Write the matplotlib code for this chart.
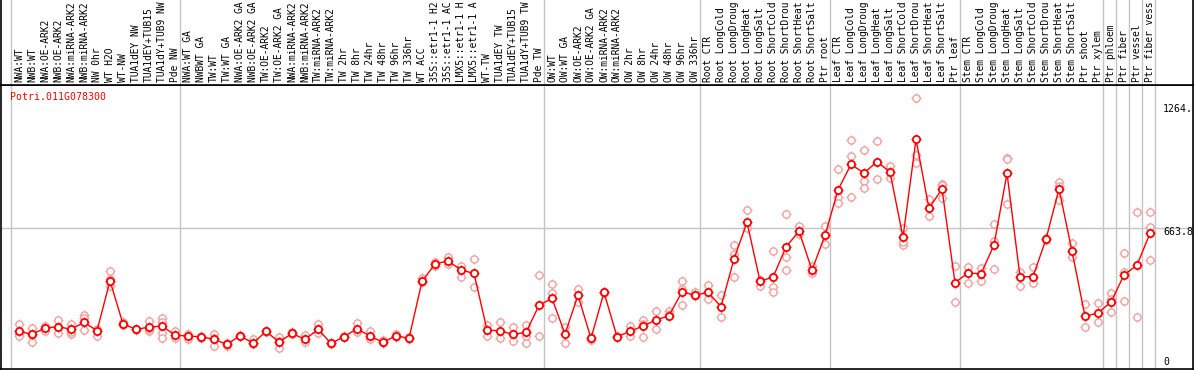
import matplotlib
matplotlib.use('Agg')
import matplotlib.pyplot as plt
import numpy as np

# sample labels, split by group (vertical grid lines between groups)
group_labels = [
    ['NWA:WT', 'NWB:WT', 'NWA:OE-ARK2', 'NWB:OE-ARK2', 'NWA:miRNA-ARK2', 'NWB:miRNA-ARK2',
     'NW 0hr', 'WT H2O', 'WT-NW', 'TUA1dEY NW', 'TUA1dEY+TUB15', 'TUA1dY+TUB9 NW', 'Pde NW'],
    ['NWA:WT GA', 'NWBWT GA', 'TW:WT', 'TW:WT GA', 'NWA:OE-ARK2 GA', 'NWB:OE-ARK2 GA',
     'TW:OE-ARK2', 'TW:OE-ARK2 GA', 'NWA:miRNA-ARK2', 'NWB:miRNA-ARK2', 'TW:miRNA-ARK2',
     'TW:miRNA-ARK2', 'TW 2hr', 'TW 8hr', 'TW 24hr', 'TW 48hr', 'TW 96hr', 'TW 336hr',
     'WT ACC', '35S::etr1-1 H2', '35S::etr1-1 AC', 'LMX5::etr1-1 H', 'LMX5::etr1-1 A',
     'WT-TW', 'TUA1dEY TW', 'TUA1dEY+TUB15', 'TUA1dY+TUB9 TW', 'Pde TW'],
    ['OW:WT', 'OW:WT GA', 'OW:OE-ARK2', 'OW:OE-ARK2 GA', 'OW:miRNA-ARK2', 'OW:miRNA-ARK2',
     'OW 2hr', 'OW 8hr', 'OW 24hr', 'OW 48hr', 'OW 96hr', 'OW 336hr'],
    ['Root CTR', 'Root LongCold', 'Root LongDroug', 'Root LongHeat', 'Root LongSalt',
     'Root ShortCold', 'Root ShortDrou', 'Root ShortHeat', 'Root ShortSalt', 'Ptr root'],
    ['Leaf CTR', 'Leaf LongCold', 'Leaf LongDroug', 'Leaf LongHeat', 'Leaf LongSalt',
     'Leaf ShortCold', 'Leaf ShortDrou', 'Leaf ShortHeat', 'Leaf ShortSalt', 'Ptr leaf'],
    ['Stem CTR', 'Stem LongCold', 'Stem LongDroug', 'Stem LongHeat', 'Stem LongSalt',
     'Stem ShortCold', 'Stem ShortDrou', 'Stem ShortHeat', 'Stem ShortSalt', 'Ptr shoot', 'Ptr xylem'],
    ['Ptr phloem'],
    ['Ptr fiber'],
    ['Ptr vessel'],
    ['Ptr fiber vess'],
]

# mean expression per sample
means = [163, 149, 179, 186, 173, 207, 166, 408, 199, 173, 183, 189, 145,
         140, 137, 124, 100, 142, 105, 163, 111, 153, 124, 173, 105, 137, 176, 140, 110,
         142, 129, 405, 489, 505, 460, 444, 170, 165, 149, 158, 289,
         323, 150, 338, 129, 352, 137, 163, 189, 218, 239, 354, 338,
         352, 283, 514, 691, 407, 425, 572, 648, 460, 628,
         848, 972, 930, 985, 935, 619, 1093, 759, 853, 399,
         446, 442, 581, 929, 428, 428, 610, 853, 552, 236, 252,
         305, 436, 484, 638]

# replicate values per sample
reps = [[197, 149, 142], [178, 113, 145], [190, 165], [218, 153, 186], [197, 149, 160],
        [242, 170, 226], [173, 140], [454, 383, 418], [207, 194], [173, 170],
        [215, 166, 176], [226, 207, 155, 132], [166, 131],
        [150, 124], [142, 131], [149, 92, 130], [105, 92], [145, 140], [124, 100],
        [166, 160], [134, 84, 115], [160, 150], [145, 113], [197, 153], [108, 102],
        [140, 134], [202, 158], [166, 124], [121, 105], [149, 137], [134, 126],
        [423, 400], [500, 480], [523, 490], [480, 428], [512, 376], [194, 142],
        [207, 129], [183, 118], [194, 105, 142], [435, 142],
        [392, 350, 229], [186, 105], [367, 307], [121, 134], [355, 349], [140, 134],
        [189, 140], [218, 134, 200], [262, 173], [262, 245], [407, 291, 370], [352, 332],
        [388, 318], [338, 234], [581, 536, 426], [751, 662], [383, 410], [551, 379, 355],
        [730, 525, 459], [673, 635], [480, 448], [673, 585],
        [948, 816, 783], [1089, 1013, 816], [1040, 891, 856], [1085, 900], [964, 904],
        [665, 581, 597], [1292, 1017, 977], [803, 722], [876, 811, 870], [480, 305],
        [476, 396], [468, 408], [683, 602, 464], [1004, 996, 779], [452, 383],
        [476, 399], [617, 605], [888, 866, 799], [590, 525], [294, 186], [299, 207],
        [347, 255, 320], [543, 450, 310], [740, 231], [740, 670, 507]]

gene = 'Potri.011G078300'
ytick_vals = [1264, 663.8, 0]
ytick_text = ['1264.', '663.8', '0']

labels = [l for g in group_labels for l in g]
x = np.arange(len(labels))
bounds = np.cumsum([0] + [len(g) for g in group_labels])

W, H = 1194, 370
fig = plt.figure(figsize=(W / 100, H / 100), dpi=100)
ax = fig.add_axes([1 / W, 1 / H, 1192 / W, 284 / H])
axl = fig.add_axes([1 / W, 285 / H, 1192 / W, 85 / H])

xlim = ((1 - 19) / 13, (1193 - 19) / 13)
ylim = ((365 - 369) / 0.2064, (365 - 85) / 0.2064)
mono = 'DejaVu Sans Mono'
grey = '#c4c4c4'

for a in (ax, axl):
    a.set_xlim(*xlim)
    a.set_xticks([])
    a.set_yticks([])
    for b in bounds:
        a.axvline(b - 0.62, color=grey, lw=1, zorder=0)
    for s in a.spines.values():
        s.set_color('black')
        s.set_linewidth(1.2)
axl.set_ylim(0, 1)
axl.spines['top'].set_visible(False)
ax.set_ylim(*ylim)
ax.axhline(663.8, color=grey, lw=1, zorder=0)

# labels on top strip
for xi, lab in zip(x, labels):
    axl.text(xi, 0.03, lab, rotation=90, ha='center', va='bottom',
             family=mono, fontsize=6.9, color='black')

# replicates
pink = '#f0a0a0'
for xi, r in zip(x, reps):
    xs = [xi] * len(r)
    ax.plot(xs, r, ls='none', marker='+', ms=7.5, mew=0.8, color=pink, zorder=2)
    ax.plot(xs, r, ls='none', marker='o', ms=5.2, mew=1.0, mec=pink, mfc='white', zorder=2)

# means
ax.plot(x, means, color='red', lw=1.0, zorder=3)
ax.plot(x, means, ls='none', marker='+', ms=7.5, mew=0.8, color='red', zorder=4)
ax.plot(x, means, ls='none', marker='o', ms=5.2, mew=1.3, mec='red', mfc='white', zorder=4)

fig.text(10 / W, 1 - 97 / H, gene, color='red', family=mono, fontsize=7.1,
         ha='left', va='center')

offsets = [-5, -4, 3]
for v, t, off in zip(ytick_vals, ytick_text, offsets):
    ax.annotate(t, (88.0, v), xytext=(0, off), textcoords='offset pixels',
                ha='left', va='center', family=mono, fontsize=7.1, color='black')

fig.savefig('out.png', dpi=100)
